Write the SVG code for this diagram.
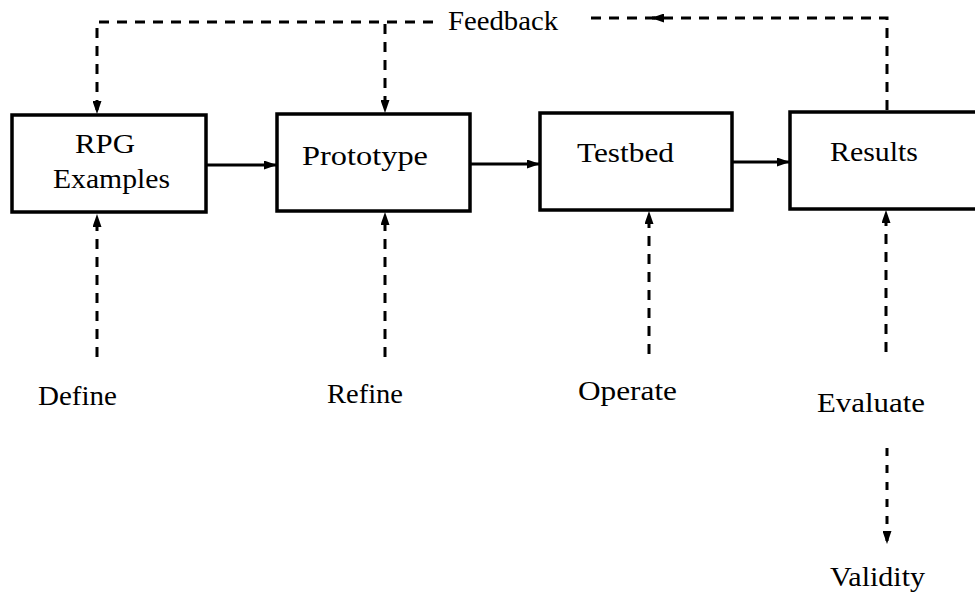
<svg xmlns="http://www.w3.org/2000/svg" width="975" height="598" viewBox="0 0 975 598">
<style>
.box{fill:#fff;stroke:#000;stroke-width:3.5}
.lbl{font-family:"Liberation Serif","Times New Roman",serif;font-size:27px;fill:#000}
.solid{fill:none;stroke:#000;stroke-width:3}
.dash{fill:none;stroke:#000;stroke-width:3;stroke-dasharray:10 8}
.dash2{fill:none;stroke:#000;stroke-width:3;stroke-dasharray:8 9}
</style>
<defs>
<marker id="ah" markerUnits="userSpaceOnUse" markerWidth="13" markerHeight="9" refX="12" refY="4.5" orient="auto">
<path d="M0,0 L13,4.5 L0,9 z" fill="#000"/>
</marker>
</defs>
<rect width="975" height="598" fill="#fff"/>
<g id="connectors">
<path class="solid" d="M206,165 L276,165" marker-end="url(#ah)"/>
<path class="solid" d="M470,164 L539,164" marker-end="url(#ah)"/>
<path class="solid" d="M732,162 L789,162" marker-end="url(#ah)"/>
<path class="dash" d="M433,22 L97,22 L97,113" marker-end="url(#ah)"/>
<path class="dash" d="M385,24 L385,112" marker-end="url(#ah)"/>
<path class="dash" d="M887,110 L887,18 L588,18"/>
<path class="solid" d="M664,18 L652,18" marker-end="url(#ah)"/>
<path class="dash" d="M97,357 L97,215" marker-end="url(#ah)"/>
<path class="dash" d="M385,357 L385,213" marker-end="url(#ah)"/>
<path class="dash" d="M649,354 L649,212" marker-end="url(#ah)"/>
<path class="dash" d="M886,352 L886,211" marker-end="url(#ah)"/>
<path class="dash2" d="M887,448 L887,543" marker-end="url(#ah)"/>
</g>
<g id="rpg"><rect class="box" x="12" y="115" width="194" height="97"/>
<text class="lbl" x="75" y="153" textLength="60" lengthAdjust="spacingAndGlyphs">RPG</text>
<text class="lbl" x="53" y="188" textLength="117" lengthAdjust="spacingAndGlyphs">Examples</text></g>
<g id="prototype"><rect class="box" x="277" y="114" width="193" height="97"/>
<text class="lbl" x="302" y="165" textLength="126" lengthAdjust="spacingAndGlyphs">Prototype</text></g>
<g id="testbed"><rect class="box" x="540" y="113" width="192" height="97"/>
<text class="lbl" x="577" y="162" textLength="97" lengthAdjust="spacingAndGlyphs">Testbed</text></g>
<g id="results"><rect class="box" x="790" y="112" width="200" height="97"/>
<text class="lbl" x="830" y="161" textLength="88" lengthAdjust="spacingAndGlyphs">Results</text></g>
<g id="feedback"><text class="lbl" x="448" y="30" textLength="110" lengthAdjust="spacingAndGlyphs">Feedback</text></g>
<g id="define"><text class="lbl" x="38" y="405" textLength="79" lengthAdjust="spacingAndGlyphs">Define</text></g>
<g id="refine"><text class="lbl" x="327" y="403" textLength="76" lengthAdjust="spacingAndGlyphs">Refine</text></g>
<g id="operate"><text class="lbl" x="578" y="400" textLength="99" lengthAdjust="spacingAndGlyphs">Operate</text></g>
<g id="evaluate"><text class="lbl" x="817" y="412" textLength="108" lengthAdjust="spacingAndGlyphs">Evaluate</text></g>
<g id="validity"><text class="lbl" x="830" y="586" textLength="95" lengthAdjust="spacingAndGlyphs">Validity</text></g>
</svg>
